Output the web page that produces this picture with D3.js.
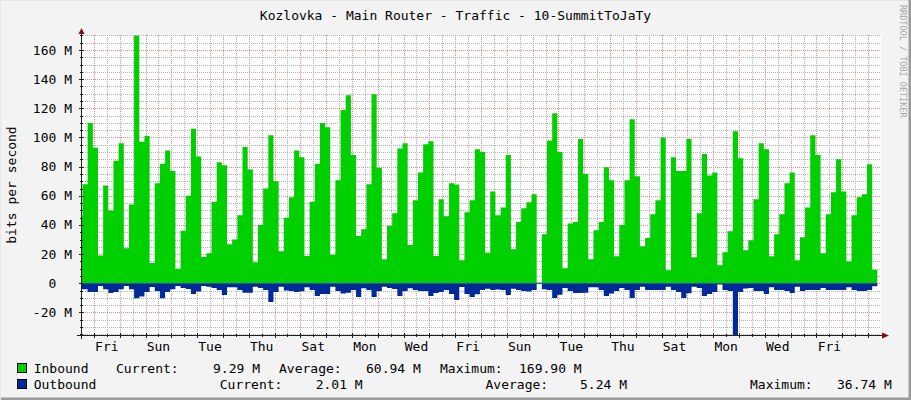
<!DOCTYPE html>
<html><head><meta charset="utf-8">
<script src="https://cdn.jsdelivr.net/npm/d3@7"></script>
<style>
body{margin:0;background:#f3f3f3;overflow:hidden}
text{font-family:"DejaVu Sans Mono",monospace;font-size:13px;fill:#000}
</style>
</head><body><svg id="c" width="911" height="400"></svg>
<script>
// ---------- data ----------
const title = "Kozlovka - Main Router - Traffic - 10-SummitToJaTy";
const yTitle = "bits per second";
const watermark = "RRDTOOL / TOBI OETIKER";
// inbound traffic, Mbit/s, one value per 4.8 h interval
const inbound = [46,68,110,93,19,67,50,84,96,24,54,169.9,97,101,14,68.6,82,91,77,10,
36,60,106,87,18,20.6,56,83,81,26.8,30,46.7,93.4,78,14.4,40,65,101.6,70,22,
45,59,91,86.5,18.8,56,82,110,107,19.5,70.7,118.8,129,88,32.5,37,68,129.7,79,16.5,
39.4,48,92.4,96,26.3,57,76,95.4,97.5,18.8,57.7,46,68.6,67.7,15.8,48.7,57,92,90,21,
63,46.7,52,88,23.3,42,51.5,55.6,61,0.5,33.6,98,116.7,90,10.3,41,42,99,75,16.5,
36.4,42,79.6,70.7,18.5,40,70.7,112.6,73.5,25.4,31,47.4,57,100,9,86.5,77,77,99,17.8,
48,88.6,74,76,12.4,21.3,35.7,104.3,85.8,22.7,29.5,57.7,96,92,18.5,33.6,47.4,68.6,76,15.8,
31.6,52,101.6,88,20.6,47.4,62.5,85,63,15,46.7,59,61,81.7,9.29];
// outbound traffic, Mbit/s (drawn below zero)
const outbound = [4.1,4.1,6,6,1.8,4,6.6,6,4,1.8,4,10.3,9,6,2.5,5.3,10.3,6,4,1.8,
3.2,3.9,7.3,5.7,1.8,2.3,3.2,4.6,8,2.7,2.7,4.6,6.4,6.4,2.3,3.2,4.6,12.8,6,2.3,
5,5.3,6,5.5,2.7,4.6,8.7,7.3,7.3,2.3,5.3,7,6.4,4.6,9.4,3.4,4.6,9.4,5.3,2.3,
3.2,3.9,8.7,5.3,3.4,4.6,5.3,5.3,8.7,6.6,6,4.6,7.3,11.4,2.5,7.3,9.4,7.5,4.6,3.7,
4.6,4.3,4.6,8,3.7,4.6,5.3,5.7,4.6,0.5,4.1,4.6,10,7.8,3.2,5.3,6.6,6.6,6.4,2.7,
2.7,4.6,8.7,7,5.3,3.2,4.6,10,4.6,2.3,4.6,4.6,4.6,4.6,2.3,4.6,6,10,6.9,2.3,
3.2,8.7,7.3,6,0.9,4.6,5.3,36.74,6,3.5,3.2,5.3,5.3,7.3,2.7,4.6,4.6,5.3,6.6,2.3,
5.3,4.6,4.6,4.6,3.2,4.6,4.6,4.6,4.6,2.7,4.6,5.3,5.3,4.6,2.01];
const seriesNames = ["Inbound","Outbound"];
const seriesColors = ["#00CF00","#002A97"];
const inboundStats = [9.29, 60.94, 169.90];   // current, average, maximum
const outboundStats = [2.01, 5.24, 36.74];
const statLabels = ["Current:","Average:","Maximum:"];
const yTickValues = [-20,0,20,40,60,80,100,120,140,160];

// time frame
const HOUR = 3600e3, DAY = 24*HOUR;
const startTime = Date.UTC(2015,0,1,12);      // Thu 12:00
const endTime = startTime + 31*DAY;
const stepMs = 4.8*HOUR;
const firstSampleStart = startTime - 3.4*HOUR;
const firstLabelTime = Date.UTC(2015,0,2,12);  // Fri noon

// ---------- layout ----------
const W = 911, H = 400;
const plot = {l:81, r:881, t:35, b:335};
const svg = d3.select("#c");

svg.append("rect").attr("width",W).attr("height",H).attr("fill","#f3f3f3");
svg.append("path").attr("d",`M0,${H} V0 H${W}`).attr("fill","none").attr("stroke","#e6e6e6").attr("stroke-width",2);
svg.append("path").attr("d",`M1,${H-1} H${W-1} V0`).attr("fill","none").attr("stroke","#9a9a9a").attr("stroke-width",3);

const x = d3.scaleUtc().domain([startTime,endTime]).range([plot.l,plot.r]);
const y = d3.scaleLinear().domain([-35.46,170.3]).range([plot.b,plot.t]);

svg.append("rect").attr("x",plot.l).attr("y",plot.t).attr("width",plot.r-plot.l).attr("height",plot.b-plot.t).attr("fill","#fff");

const g = svg.append("g").attr("shape-rendering","crispEdges");
const minorC = "#b4b4b4", majorC = "#e88a8a";

const minorY = d3.range(-35,171,5).filter(v=>v%20!==0);
const majorY = d3.range(-20,161,20);
g.selectAll(".hm").data(minorY).join("line")
  .attr("x1",plot.l).attr("x2",plot.r).attr("y1",d=>Math.round(y(d))+0.5).attr("y2",d=>Math.round(y(d))+0.5)
  .attr("stroke",minorC).attr("stroke-dasharray","1,1");
g.selectAll(".hM").data(majorY).join("line")
  .attr("x1",plot.l).attr("x2",plot.r).attr("y1",d=>Math.round(y(d))+0.5).attr("y2",d=>Math.round(y(d))+0.5)
  .attr("stroke",majorC).attr("stroke-dasharray","1,1");
const halfDays = d3.utcHour.every(12).range(startTime, endTime);
g.selectAll(".v").data(halfDays).join("line")
  .attr("x1",d=>Math.round(x(d))+0.5).attr("x2",d=>Math.round(x(d))+0.5)
  .attr("y1",plot.t).attr("y2",plot.b)
  .attr("stroke",d=>d.getUTCHours()===0?majorC:minorC).attr("stroke-dasharray","1,1");

// data
svg.append("clipPath").attr("id","pc").append("rect")
  .attr("x",plot.l).attr("y",plot.t).attr("width",plot.r-plot.l).attr("height",plot.b-plot.t);
function pts(arr, sign){
  const p = arr.map((v,i)=>({t:firstSampleStart+i*stepMs, v:sign*v}));
  p.push({t:firstSampleStart+arr.length*stepMs, v:sign*arr[arr.length-1]});
  return p;
}
const area = d3.area().x(d=>x(d.t)).y0(y(0)).y1(d=>y(d.v)).curve(d3.curveStepAfter);
const dg = svg.append("g").attr("clip-path","url(#pc)");
dg.append("path").datum(pts(inbound,1)).attr("d",area).attr("fill",seriesColors[0]);
dg.append("path").datum(pts(outbound,-1)).attr("d",area).attr("fill",seriesColors[1]);

// axes
const ax = svg.append("g").attr("shape-rendering","crispEdges");
ax.append("line").attr("x1",plot.l+0.5).attr("x2",plot.l+0.5).attr("y1",plot.t-5).attr("y2",plot.b+4).attr("stroke","#202020");
ax.append("line").attr("x1",plot.l-4).attr("x2",plot.r+4).attr("y1",plot.b+0.5).attr("y2",plot.b+0.5).attr("stroke","#202020");
ax.selectAll(".ty").data(minorY.concat(majorY)).join("line")
  .attr("x1",d=>plot.l-(d%20===0?2:1)).attr("x2",d=>plot.l+(d%20===0?3:2))
  .attr("y1",d=>Math.round(y(d))+0.5).attr("y2",d=>Math.round(y(d))+0.5).attr("stroke","#202020");
ax.selectAll(".tx").data(halfDays).join("line")
  .attr("x1",d=>Math.round(x(d))+0.5).attr("x2",d=>Math.round(x(d))+0.5)
  .attr("y1",d=>plot.b-(d.getUTCHours()===0?2:1)).attr("y2",d=>plot.b+(d.getUTCHours()===0?3:2)).attr("stroke","#202020");
svg.append("path").attr("d",`M${plot.l-2.5},${plot.t-1} L${plot.l+0.5},${plot.t-7} L${plot.l+3.5},${plot.t-1} Z`).attr("fill","#801010");
svg.append("path").attr("d",`M${plot.r+1},${plot.b-2.5} L${plot.r+8},${plot.b+0.5} L${plot.r+1},${plot.b+3.5} Z`).attr("fill","#801010");

// y labels
const fmtY = v => v===0 ? "0  " : `${v} M`;
svg.append("g").selectAll("text").data(yTickValues).join("text")
  .attr("x",72).attr("y",d=>y(d)+4.5).attr("text-anchor","end").attr("xml:space","preserve")
  .style("white-space","pre").text(fmtY);

// x labels: every second day at noon, starting Friday
const labelDays = d3.range(0, 31, 2).map(k=>new Date(firstLabelTime + k*DAY))
  .filter(d=>x(d)<plot.r-10);
svg.append("g").selectAll("text").data(labelDays).join("text")
  .attr("x",d=>x(d)).attr("y",351).attr("text-anchor","middle").text(d3.utcFormat("%a"));

svg.append("text").attr("x",455.5).attr("y",19.5).attr("text-anchor","middle").text(title);
svg.append("text").attr("transform","translate(15.5,185) rotate(-90)").attr("text-anchor","middle").text(yTitle);
svg.append("text").attr("transform","translate(900,5) rotate(90)").attr("text-anchor","start")
  .style("font-size","8.5px").style("fill","#a8a8a8").text(watermark);

// legend
const fmtS = v => `${v.toFixed(2)} M`;
const legendRows = [
  {name:seriesNames[0], color:seriesColors[0], stats:inboundStats, y:372.5, box:363.5,
   xs:[116,213, 279,366, 440,519]},
  {name:seriesNames[1], color:seriesColors[1], stats:outboundStats, y:388.5, box:379.5,
   xs:[219.8,315.7, 485.5,580, 750,837]}
];
legendRows.forEach(r=>{
  svg.append("rect").attr("x",17.5).attr("y",r.box).attr("width",9).attr("height",9)
    .attr("fill",r.color).attr("stroke","#000").attr("shape-rendering","crispEdges");
  svg.append("text").attr("x",33.7).attr("y",r.y).text(r.name);
  r.stats.forEach((v,i)=>{
    svg.append("text").attr("x",r.xs[2*i]).attr("y",r.y).text(statLabels[i]);
    svg.append("text").attr("x",r.xs[2*i+1]).attr("y",r.y).text(fmtS(v));
  });
});
</script></body></html>
